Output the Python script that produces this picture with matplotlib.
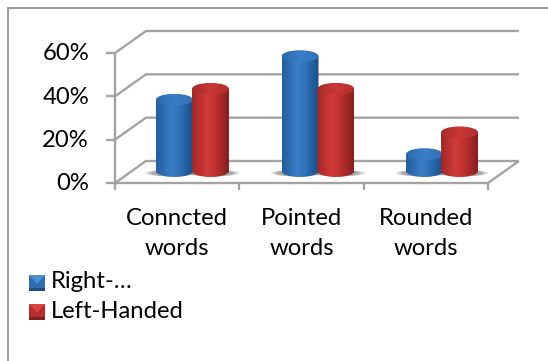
import numpy as np
import matplotlib
matplotlib.use("Agg")
import matplotlib.pyplot as plt
from matplotlib.colors import LinearSegmentedColormap
from matplotlib.patches import Ellipse, PathPatch, Rectangle
from matplotlib.path import Path

categories = ["Conncted\nwords", "Pointed\nwords", "Rounded\nwords"]
right_handed = [35, 55, 10]
left_handed = [40, 40, 20]
y_ticks = [0, 20, 40, 60]
y_labels = ["0%", "20%", "40%", "60%"]
legend_labels = ["Right-…", "Left-Handed"]

W, H = 548, 361
FONT = 17.2

plt.rcParams["font.family"] = ["Lato", "DejaVu Sans"]

blue_side = LinearSegmentedColormap.from_list(
    "blue_side", ["#245f9f", "#2d6cb0", "#3b7ec6", "#3375bc", "#2561a3", "#1c4f8a"])
red_side = LinearSegmentedColormap.from_list(
    "red_side", ["#a02828", "#bc3130", "#d03c3a", "#c23432", "#a42928", "#861f1f"])
blue_top = LinearSegmentedColormap.from_list("blue_top", ["#2a69ad", "#3a7ec6", "#2f72b8"])
red_top = LinearSegmentedColormap.from_list("red_top", ["#a82a2a", "#c83836", "#b52e2d"])

fig = plt.figure(figsize=(W / 100, H / 100), dpi=100)
bg = fig.add_axes([0, 0, 1, 1])
bg.set_xlim(0, W)
bg.set_ylim(H, 0)
bg.axis("off")

# chart frame, open on the right and at the bottom
bg.plot([7.5, 7.5, W], [H, 7.5, 7.5], color="#9a9a9a", lw=1.4, solid_joinstyle="miter")

# plot box: x in category units, y in percent
x0, x1, y0 = 115, 488, 183
ppx = (x1 - x0) / 3
ppy = 130 / 60
y_max = 72
ax = fig.add_axes([x0 / W, 1 - y0 / H, (x1 - x0) / W, y_max * ppy / H])
ax.set_xlim(0, 3)
ax.set_ylim(0, y_max)
ax.axis("off")

dx = 31 / ppx
dy = 22 / ppy
grid = dict(color="#a3a3a3", lw=1.7, clip_on=False, solid_capstyle="butt")

for v in y_ticks:
    ax.plot([0, dx, 3 + dx], [v, v + dy, v + dy], **grid)
    ax.plot([-9 / ppx, 0], [v, v], **grid)
ax.plot([0, 0], [-7 / ppy, 60], **grid)
ax.plot([0, 3, 3 + dx], [0, 0, dy], **grid)
for i in range(1, 4):
    ax.plot([i, i], [-7 / ppy, 0], **grid)

for v, lab in zip(y_ticks, y_labels):
    ax.text(-26 / ppx, v - 0.4, lab, ha="right", va="center", fontsize=FONT, color="black", clip_on=False)
for i, lab in enumerate(categories):
    ax.text(i + 0.5, -50.5 / ppy, lab, ha="center", va="center", fontsize=FONT,
            color="black", linespacing=1.5, clip_on=False)

bar_w = 37 / ppx
ry = 6 / ppy
base_y = 12 / ppy
top_zero = 7 / ppy
scale = 2.178 / ppy


def cylinder(cx, value, side_cmap, top_cmap, z):
    top = top_zero + value * scale
    left, right = cx - bar_w / 2, cx + bar_w / 2
    k = 0.5523
    # side wall outline with rounded bottom
    verts = [(left, top), (left, base_y),
             (left, base_y - ry * k), (cx - bar_w / 2 * k, base_y - ry), (cx, base_y - ry),
             (cx + bar_w / 2 * k, base_y - ry), (right, base_y - ry * k), (right, base_y),
             (right, top), (left, top)]
    codes = [Path.MOVETO, Path.LINETO, Path.CURVE4, Path.CURVE4, Path.CURVE4,
             Path.CURVE4, Path.CURVE4, Path.CURVE4, Path.LINETO, Path.CLOSEPOLY]
    clip = PathPatch(Path(verts, codes), fc="none", ec="none", transform=ax.transData)
    ax.add_patch(clip)
    grad = np.linspace(0, 1, 64).reshape(1, -1)
    im = ax.imshow(grad, cmap=side_cmap, extent=[left, right, base_y - ry, top + ry],
                   aspect="auto", zorder=z, interpolation="bilinear")
    im.set_clip_path(clip)
    # top cap
    cap = Ellipse((cx, top), bar_w, 2 * ry, transform=ax.transData, fc="none", ec="none")
    ax.add_patch(cap)
    im2 = ax.imshow(grad, cmap=top_cmap, extent=[left, right, top - ry, top + ry],
                    aspect="auto", zorder=z + 0.1, interpolation="bilinear")
    im2.set_clip_path(cap)


def floor_shadow(cx, z):
    # soft shadow lying on the floor at the base of a cylinder
    for w, a in zip([1.5, 1.38, 1.26, 1.14], [0.08, 0.12, 0.18, 0.25]):
        ax.add_patch(Ellipse((cx, base_y - ry * 0.35), bar_w * w, ry * 1.1, fc="#555555",
                             ec="none", alpha=a, zorder=z))


blue_pos = [0.478, 1.488, 2.489]
red_pos = [0.768, 1.777, 2.771]
for i in range(3):
    floor_shadow(blue_pos[i] - 0.02, 2)
    floor_shadow(red_pos[i] + 0.02, 2)
    cylinder(blue_pos[i], right_handed[i], blue_side, blue_top, 3)
    cylinder(red_pos[i], left_handed[i], red_side, red_top, 4)

ax.set_xlim(0, 3)
ax.set_ylim(0, y_max)

# legend
for y, lab, c_hi, c_lo, c_mid in [(283, legend_labels[0], "#4b8ed4", "#234f86", "#2f6db0"),
                                  (312, legend_labels[1], "#d8443f", "#7e1f1f", "#b42d2c")]:
    bg.add_patch(Rectangle((29, y - 8), 16, 16, fc=c_mid, ec="none"))
    bg.fill([29, 45, 37], [y - 8, y - 8, y + 1], color=c_hi, lw=0)
    bg.fill([29, 45, 45, 29], [y + 8, y + 8, y + 5, y + 5], color=c_lo, lw=0)
    bg.text(51, y - 1, lab, ha="left", va="center", fontsize=FONT, color="black")

fig.savefig("out.png", dpi=100)
